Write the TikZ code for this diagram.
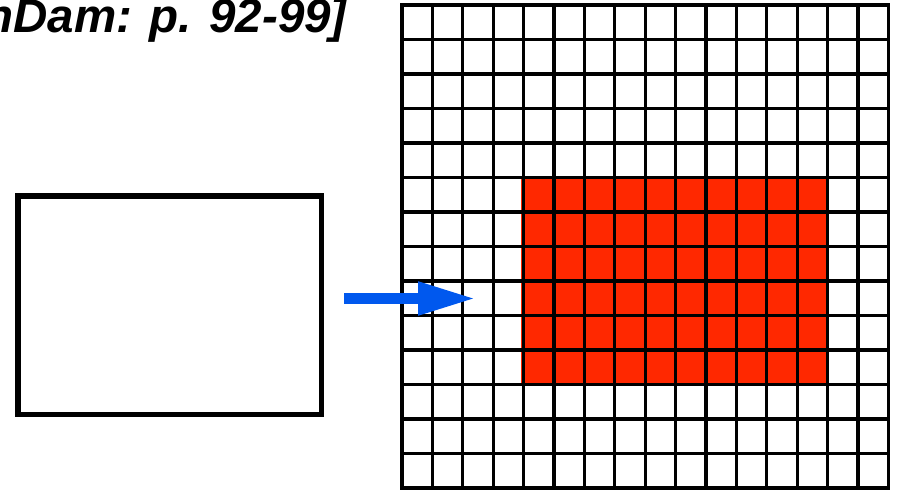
\documentclass[tikz,border=0pt]{standalone}
\usepackage{fontspec}
\setmainfont{Liberation Sans}
\usetikzlibrary{arrows.meta}
\definecolor{cellred}{RGB}{255,40,0}
\definecolor{arrowblue}{RGB}{0,88,238}
\tikzset{
  cellline/.style={draw=black, line width=3.2pt},
  framebox/.style={draw=black, line width=5.5pt, minimum width=303.5pt, minimum height=218.5pt, inner sep=0pt},
  bluearrow/.style={draw=arrowblue, line width=11pt, -{Triangle[length=58pt,width=31pt]}}
}
\begin{document}
\begin{tikzpicture}[x=1pt,y=-1pt]
\useasboundingbox (0,0) rectangle (897,491);
% title text (cropped at the top and left edges)
\begin{scope}
\clip (0,0) rectangle (897,491);
\node[anchor=base east, inner sep=0pt, font=\fontsize{47.5}{56}\selectfont\bfseries\itshape] (title) at (347,32) {nDam: p. 92-99]};
\end{scope}
% left box
\node[framebox] (box) at (169.5,305) {};
% red region
\fill[cellred] (521,178) rectangle (829,385);
% grid of cells
\foreach \i in {0,...,15} {
  \foreach \j in {0,...,13} {
    \draw[cellline] ({402+\i*30.4},{5+\j*34.5}) rectangle ({402+(\i+1)*30.4},{5+(\j+1)*34.5});
  }
}
\coordinate (astart) at (344,298.5);
\coordinate (aend) at (476,298.5);
\draw[bluearrow] (astart) -- (aend);
\end{tikzpicture}
\end{document}
